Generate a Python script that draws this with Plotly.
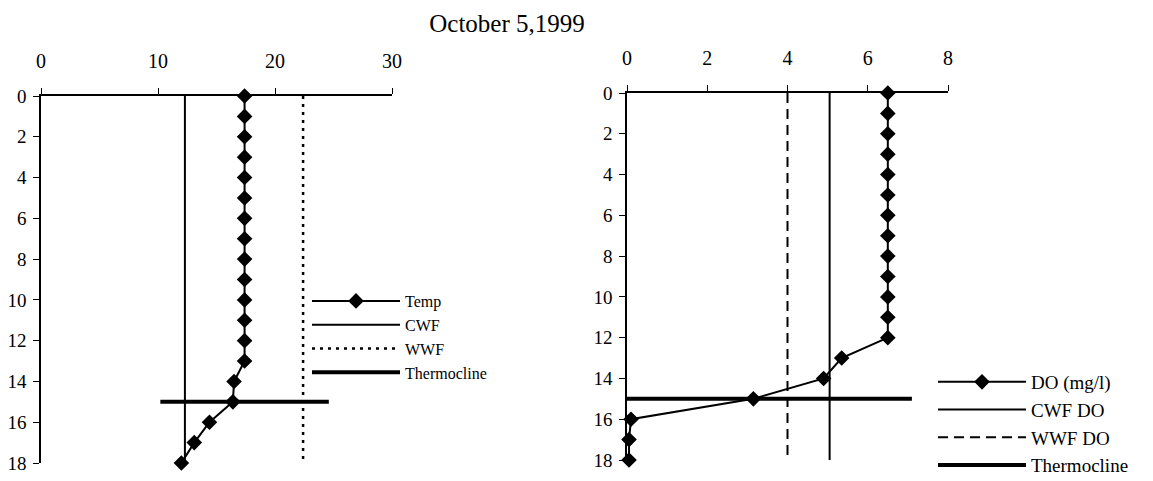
import plotly.graph_objects as go

# depth (ft) and readings
depth = [0, 1, 2, 3, 4, 5, 6, 7, 8, 9, 10, 11, 12, 13, 14, 15, 16, 17, 18]
temp = [17.4, 17.4, 17.4, 17.4, 17.4, 17.4, 17.4, 17.4, 17.4, 17.4,
        17.4, 17.4, 17.4, 17.4, 16.5, 16.4, 14.4, 13.1, 12.0]
do_mgl = [6.5, 6.5, 6.5, 6.5, 6.5, 6.5, 6.5, 6.5, 6.5, 6.5,
          6.5, 6.5, 6.5, 5.35, 4.9, 3.15, 0.1, 0.05, 0.05]

# criteria lines
cwf_temp = [12.3, 12.3]
wwf_temp = [22.4, 22.4]
cwf_do = [5.05, 5.05]
wwf_do = [4.0, 4.0]
crit_depth = [0, 18]

thermo_depth = [15, 15]
thermo_temp = [10.2, 24.6]
thermo_do = [0, 7.1]

serif = "Liberation Serif"
W, H = 1153, 481
OFF = 8  # page body margin


def fx(p):
    return (p - OFF) / W


def fy(p):
    return 1 - (p - OFF) / H


fig = go.Figure()

# left panel - temperature
fig.add_trace(go.Scatter(x=temp, y=depth, name="Temp", mode="lines+markers",
                         line=dict(color="black", width=2),
                         marker=dict(symbol="diamond", size=12, color="black"),
                         cliponaxis=False, legend="legend"))
fig.add_trace(go.Scatter(x=cwf_temp, y=crit_depth, name="CWF", mode="lines",
                         line=dict(color="black", width=2), legend="legend"))
fig.add_trace(go.Scatter(x=wwf_temp, y=crit_depth, name="WWF", mode="lines",
                         line=dict(color="black", width=2.5, dash="3px,5px"),
                         legend="legend"))
fig.add_trace(go.Scatter(x=thermo_temp, y=thermo_depth, name="Thermocline", mode="lines",
                         line=dict(color="black", width=4), cliponaxis=False,
                         legend="legend"))

# right panel - dissolved oxygen
fig.add_trace(go.Scatter(x=do_mgl, y=depth, name="DO (mg/l)", mode="lines+markers",
                         xaxis="x2", yaxis="y2",
                         line=dict(color="black", width=2),
                         marker=dict(symbol="diamond", size=12, color="black"),
                         cliponaxis=False, legend="legend2"))
fig.add_trace(go.Scatter(x=cwf_do, y=crit_depth, name="CWF DO", mode="lines",
                         xaxis="x2", yaxis="y2",
                         line=dict(color="black", width=2), legend="legend2"))
fig.add_trace(go.Scatter(x=wwf_do, y=crit_depth, name="WWF DO", mode="lines",
                         xaxis="x2", yaxis="y2",
                         line=dict(color="black", width=2, dash="10px,6px"),
                         legend="legend2"))
fig.add_trace(go.Scatter(x=thermo_do, y=thermo_depth, name="Thermocline", mode="lines",
                         xaxis="x2", yaxis="y2",
                         line=dict(color="black", width=4), cliponaxis=False,
                         legend="legend2"))

xax = dict(side="top", showline=True, linecolor="black", linewidth=1.5,
           ticks="outside", ticklen=6, tickcolor="black", showgrid=False,
           zeroline=False, ticklabelstandoff=12, automargin=False,
           tickfont=dict(family=serif, size=20, color="black"))
yax = dict(autorange=False, range=[18, 0], dtick=2, showline=True,
           linecolor="black", linewidth=1.5, ticks="outside", ticklen=6,
           tickcolor="black", showgrid=False, zeroline=False,
           ticklabelstandoff=3, automargin=False,
           tickfont=dict(family=serif, size=19, color="black"))

fig.update_layout(
    width=W, height=H,
    margin=dict(l=0, r=0, t=0, b=0),
    paper_bgcolor="white", plot_bgcolor="white",
    title=dict(text="October 5,1999", x=fx(507), xanchor="center",
               y=fy(23), yanchor="middle", automargin=False,
               font=dict(family=serif, size=25, color="black")),
    xaxis=dict(xax, domain=[fx(41), fx(392)], range=[0, 30], dtick=10,
               anchor="y"),
    yaxis=dict(yax, domain=[fy(463), fy(96)], anchor="x"),
    xaxis2=dict(xax, domain=[fx(627), fx(948)], range=[0, 8], dtick=2,
                anchor="y2"),
    yaxis2=dict(yax, domain=[fy(460), fy(93)], anchor="x2"),
    legend=dict(x=299 / W, xanchor="left", y=1 - 276 / H, yanchor="top",
                itemwidth=88, bgcolor="rgba(0,0,0,0)",
                font=dict(family=serif, size=16, color="black")),
    legend2=dict(x=925 / W, xanchor="left", y=1 - 355 / H, yanchor="top",
                 itemwidth=88, bgcolor="rgba(0,0,0,0)",
                 font=dict(family=serif, size=19, color="black")),
)

fig.write_html("out.html")
